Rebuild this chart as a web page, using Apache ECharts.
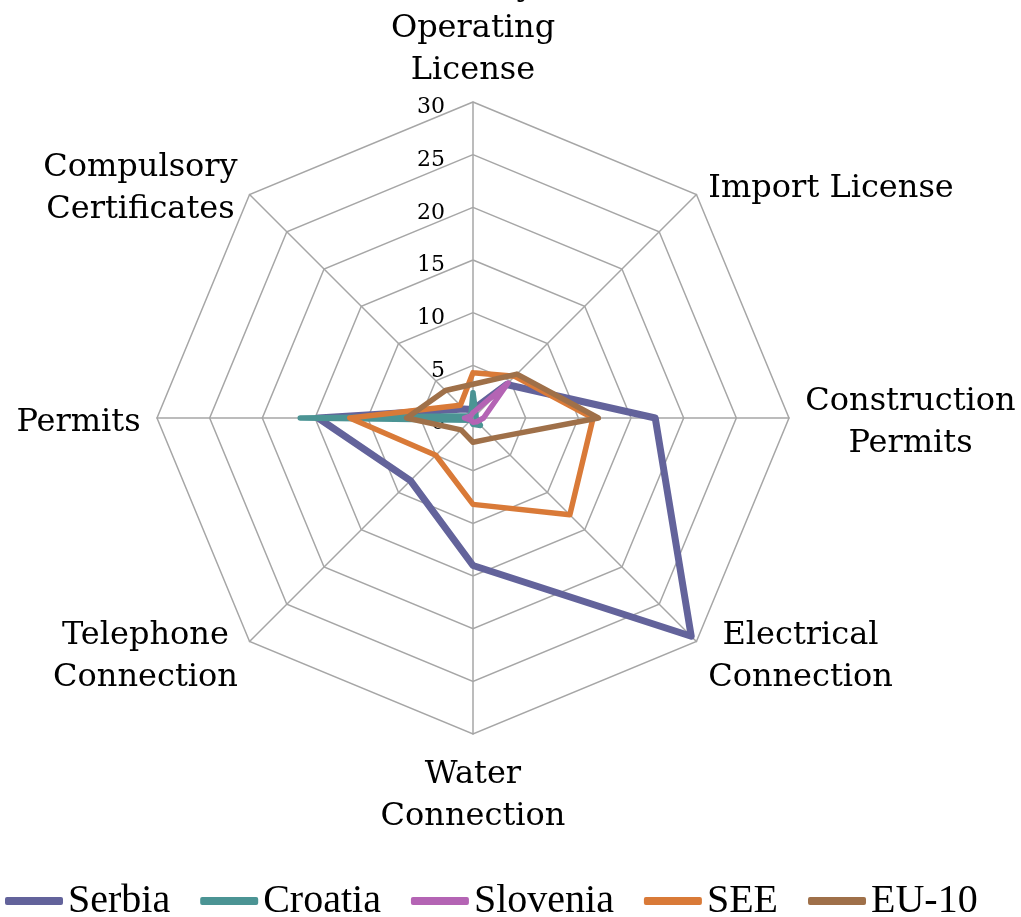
<!DOCTYPE html>
<html>
<head>
<meta charset="utf-8">
<script src="https://cdn.jsdelivr.net/npm/echarts@6/dist/echarts.min.js"></script>
<style>
html, body { margin: 0; background: #fff; }
#chart { width: 1021px; height: 917px; }
</style>
</head>
<body>
<div id="chart"></div>
<script>
// axes listed clockwise from the top
const axisNames = ['Activity\nOperating\nLicense', 'Import License', 'Construction\nPermits', 'Electrical\nConnection',
    'Water\nConnection', 'Telephone\nConnection', 'Permits', 'Compulsory\nCertificates']
const seriesNames = ['Serbia', 'Croatia', 'Slovenia', 'SEE', 'EU-10']
const serbia = [0.8, 4.5, 17.3, 29.3, 14, 8.4, 14.7, 1.2]
const croatia = [2.4, 0.4, 0.3, 1, 0.6, 0.3, 16.4, 0.3]
const slovenia = [0.5, 4.7, 1, 0.5, 0.4, 0.3, 0.8, 0.3]
const see = [4.3, 5.6, 11.4, 13, 8.2, 5, 11.7, 1.7]
const eu10 = [3.2, 5.9, 11.9, 2.7, 2.3, 1.6, 6.3, 3.7]
const axisMax = 30

const colors = ['#63639b', '#4b9494', '#b464b4', '#d97a38', '#9f7049']
const widths = [7, 5.5, 5.5, 5.5, 5.5]
const font = 'DejaVu Serif'

// echarts lays indicators out counter-clockwise, so flip the order
const order = [0, 7, 6, 5, 4, 3, 2, 1]
const pick = arr => order.map(i => arr[i])

// center each line of a multi-line axis name inside its block
const ctx = document.createElement('canvas').getContext('2d')
ctx.font = `32px "${font}"`
const rich = {}
axisNames.forEach((n, i) => {
    const w = Math.max(...n.split('\n').map(l => ctx.measureText(l).width))
    rich['n' + i] = {
        width: Math.ceil(w) + 2, align: 'center', fontFamily: font, fontSize: 32,
        lineHeight: 42, padding: [9, 0, 0, 0], color: '#000',
    }
})

const allData = [serbia, croatia, slovenia, see, eu10]

const option = {
    animation: false,
    legend: {
        left: 0,
        top: 876,
        itemWidth: 58,
        itemHeight: 8,
        itemGap: 30,
        icon: 'roundRect',
        textStyle: { fontFamily: 'Liberation Serif', fontSize: 40, color: '#000' },
        data: seriesNames,
    },
    radar: {
        center: [473, 418],
        radius: 316,
        startAngle: 90,
        splitNumber: 6,
        shape: 'polygon',
        nameGap: 15,
        indicator: pick(axisNames).map((n, k) => ({
            name: n,
            min: 0,
            max: axisMax,
            axisLabel: { show: k === 0 },
        })),
        axisName: {
            color: '#000',
            fontFamily: font,
            fontSize: 32,
            lineHeight: 42,
            formatter(value) {
                const i = axisNames.indexOf(value)
                return value.split('\n').map(l => `{n${i}|${l}}`).join('\n')
            },
            rich,
        },
        axisLabel: {
            show: false,
            color: '#000',
            fontFamily: font,
            fontSize: 22,
            margin: 28,
            formatter: v => `{v|${v}}`,
            rich: {
                v: { fontFamily: font, fontSize: 22, color: '#000', padding: [11, 0, 0, 0] },
            },
        },
        axisTick: { show: false },
        axisLine: { lineStyle: { color: '#a6a6a6', width: 1.5 } },
        splitLine: { lineStyle: { color: '#a6a6a6', width: 1.5 } },
        splitArea: { show: false },
    },
    series: seriesNames.map((s, i) => ({
        type: 'radar',
        name: s,
        symbol: 'none',
        color: colors[i],
        lineStyle: { color: colors[i], width: widths[i], join: 'round', cap: 'round' },
        data: [{ name: s, value: pick(allData[i]) }],
    })),
}

const myechart = echarts.init(document.getElementById('chart'))
myechart.setOption(option)
</script>
</body>
</html>
